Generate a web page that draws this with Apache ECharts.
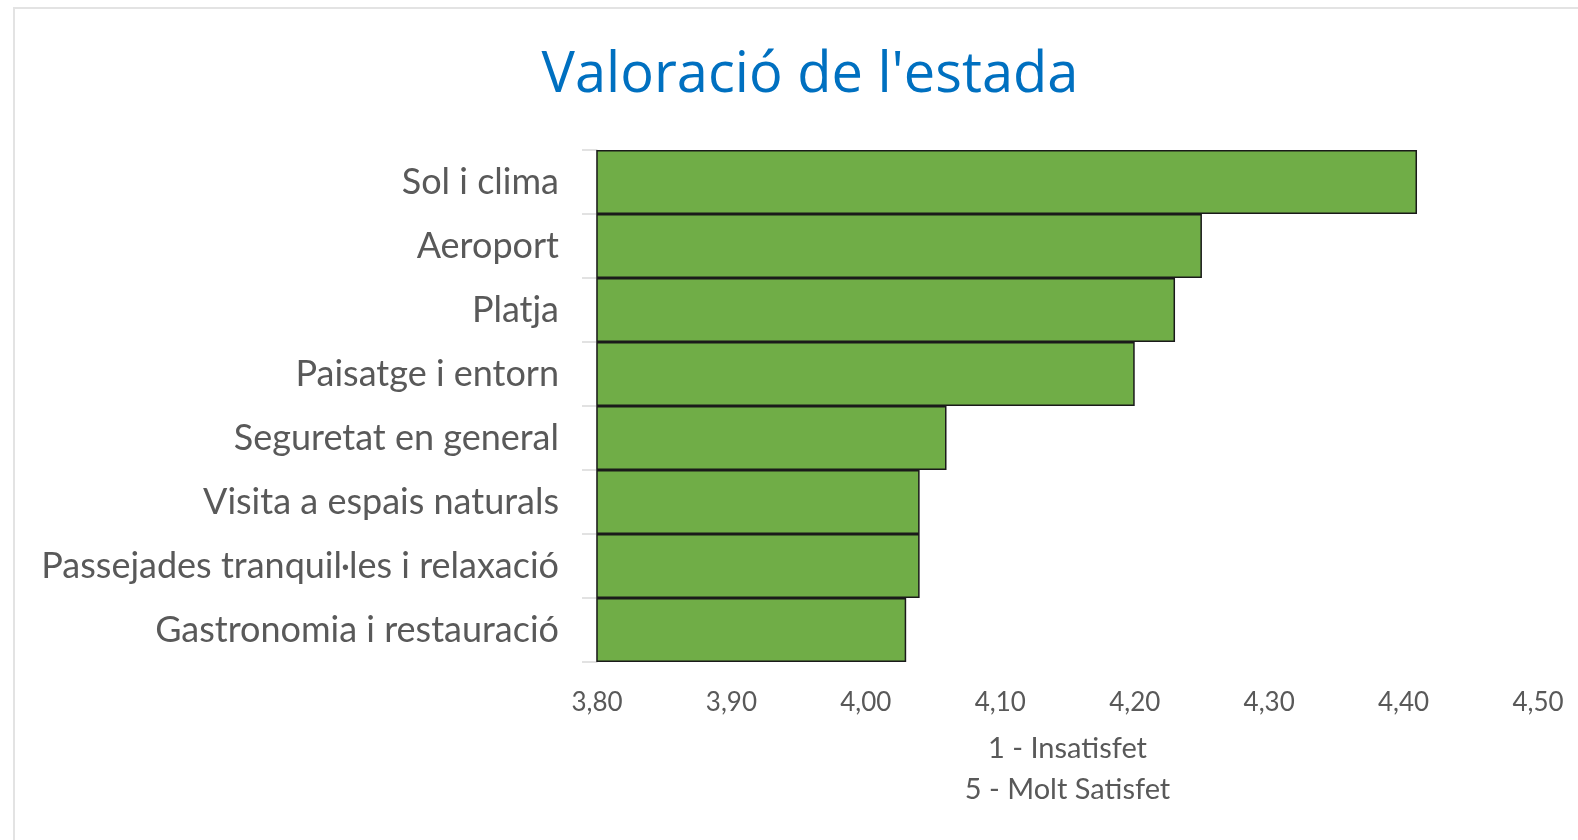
<!DOCTYPE html>
<html>
<head>
<meta charset="utf-8">
<script src="https://cdn.jsdelivr.net/npm/echarts@6/dist/echarts.min.js"></script>
<style>
  html, body { margin: 0; padding: 0; background: #fff; }
  #chart { width: 1578px; height: 840px; position: relative; }
  .frame {
    position: absolute;
    left: 13px; top: 7px;
    width: 1600px; height: 900px;
    border: 2px solid #e3e3e3;
    box-sizing: border-box;
    pointer-events: none;
  }
</style>
</head>
<body>
<div id="chart"></div>
<div class="frame"></div>
<script>
  // categories top -> bottom
  const categories = [
    'Sol i clima',
    'Aeroport',
    'Platja',
    'Paisatge i entorn',
    'Seguretat en general',
    'Visita a espais naturals',
    'Passejades tranquil·les i relaxació',
    'Gastronomia i restauració'
  ]
  const valoracio = [4.41, 4.25, 4.23, 4.20, 4.06, 4.04, 4.04, 4.03]

  const axisMin = 3.8
  const axisMax = 4.5
  const axisStep = 0.1

  let chart = echarts.init(document.getElementById('chart'))
  chart.setOption({
    animation: false,
    textStyle: { fontFamily: 'Lato, "Open Sans", sans-serif' },
    title: {
      text: "Valoració de l'estada",
      left: 805,
      textAlign: 'center',
      top: 43,
      textStyle: {
        color: '#0070C0',
        fontSize: 56,
        fontWeight: 'normal',
        fontFamily: '"Open Sans", sans-serif'
      }
    },
    grid: {
      left: 597,
      right: 40,
      top: 150,
      bottom: 178,
      containLabel: false
    },
    xAxis: {
      type: 'value',
      min: axisMin,
      max: axisMax,
      interval: axisStep,
      axisLine: { show: false },
      axisTick: { show: false },
      splitLine: { show: false },
      axisLabel: {
        color: '#595959',
        fontSize: 26,
        margin: 28,
        formatter: (v) => v.toFixed(2).replace('.', ',')
      },
      name: '1 - Insatisfet\n5 - Molt Satisfet',
      nameLocation: 'middle',
      nameGap: 66,
      nameTextStyle: {
        color: '#595959',
        fontSize: 29,
        lineHeight: 41
      }
    },
    yAxis: {
      type: 'category',
      data: categories,
      inverse: true,
      axisLine: { show: true, lineStyle: { color: '#d9d9d9', width: 1.5 } },
      axisTick: { show: true, length: 15, lineStyle: { color: '#d9d9d9', width: 1.5 } },
      axisLabel: {
        color: '#595959',
        fontSize: 36,
        margin: 38
      }
    },
    series: [{
      type: 'bar',
      data: valoracio,
      barCategoryGap: '0%',
      itemStyle: {
        color: '#70AD47',
        borderColor: '#1a1a1a',
        borderWidth: 1.5
      }
    }]
  })
</script>
</body>
</html>
